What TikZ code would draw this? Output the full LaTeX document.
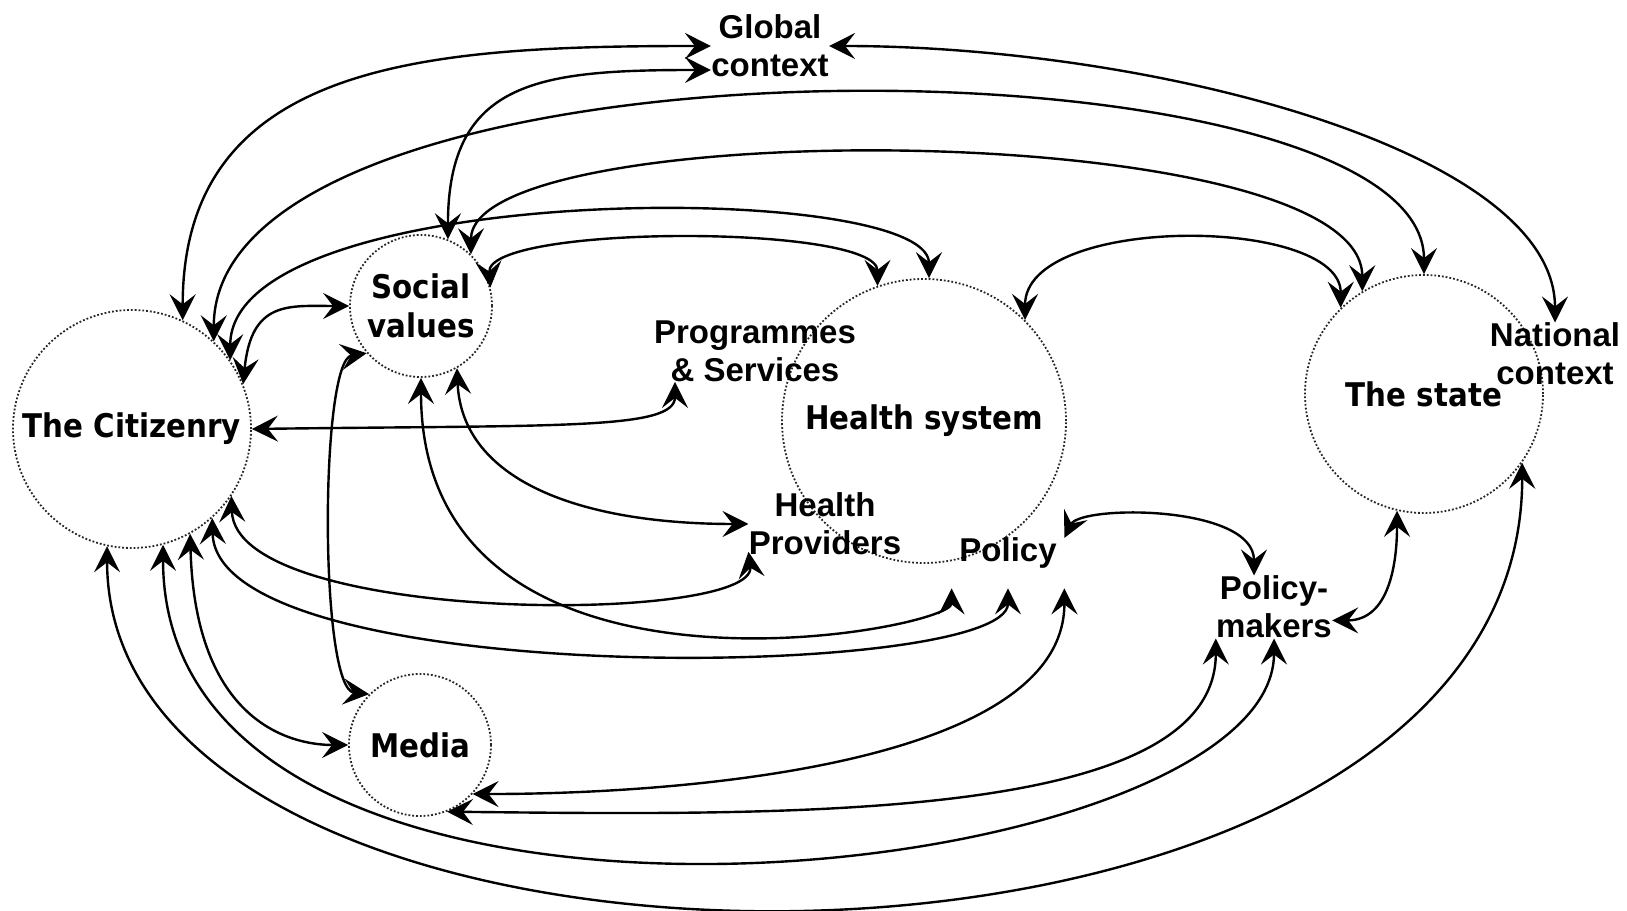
\documentclass[tikz,border=0pt]{standalone}
\usepackage{fontspec}
\setmainfont{Liberation Sans}
\newfontfamily\circfont{DejaVu Sans}[FakeStretch=0.9]
\usepackage{tikz}
\usetikzlibrary{arrows.meta}

\begin{document}
\begin{tikzpicture}
    [x=0.5pt, y=0.5pt,
     actor/.style={draw=black!85, circle, densely dotted, line width=0.9pt, inner sep=0pt,
       align=center, font=\circfont\bfseries\fontsize{16.3}{19.5}\selectfont},
     lbl/.style={inner sep=0pt, align=center, font=\bfseries\fontsize{16.5}{19}\selectfont},
     link/.style={<->, >={Stealth[length=13pt, width=13pt, inset=5pt]}, line width=1.2pt}]
    \useasboundingbox (0, 0) rectangle (1627, 910);

    \node (cit) [actor, minimum size=119pt] at (132, 481) {The Citizenry};
    \node (soc) [actor, minimum size=71pt] at (421, 604) {Social\\values};
    \node (hs) [actor, minimum size=142pt] at (924, 489) {Health system};
    \node (state) [actor, minimum size=119pt] at (1424, 516) {The state};
    \node (media) [actor, minimum size=71pt] at (420, 165) {Media};

    \node (glob) [lbl] at (770, 864) {Global\\context};
    \node (nat) [lbl] at (1555, 556) {National\\context};
    \node (prog) [lbl] at (755, 559) {Programmes\\\& Services};
    \node (prov) [lbl] at (825, 386) {Health\\Providers};
    \node (pol) [lbl, minimum width=56pt, minimum height=35pt] at (1008, 357) {Policy};
    \node (makers) [lbl] at (1274, 303) {Policy-\\makers};

    \draw [link] (cit.65) .. controls +(0,260) and +(-282,0) .. (glob.west);
    \draw [link] (soc.68) .. controls +(0,160) and +(-170,0) .. ([yshift=-12pt]glob.west);
    \draw [link] (glob.east) .. controls +(320,0) and +(0,173) .. (nat.north);
    \draw [link] (cit.47) .. controls +(0,322) and +(0,245) .. (state.90);
    \draw [link] (soc.46) .. controls +(0,140) and +(0,175) .. (state.121);
    \draw [link] (cit.35) .. controls +(0,181) and +(0,99) .. (hs.88);
    \draw [link] (soc.15) .. controls +(-5,63) and +(0,62) .. (hs.109);
    \draw [link] (hs.45) .. controls +(0,106) and +(0,92) .. (state.134);
    \draw [link] (cit.22) .. controls +(8,84) and +(-60,0) .. (soc.west);
    \draw [link] (cit.east) .. controls +(309,4) and +(0,-48) .. ([xshift=-40pt]prog.south);
    \draw [link] (soc.221) .. controls +(-47,-7) and +(-50,5) .. (media.135);
    \draw [link] (soc.south) .. controls +(0,-353) and +(0,-42) .. (pol.south west);
    \draw [link] (soc.300) .. controls +(5,-112) and +(-169,0) .. (prov.west);
    \draw [link] (cit.-34) .. controls +(4,-129) and +(9,-73) .. (prov.200);
    \draw [link] (cit.-48) .. controls +(4,-173) and +(0,-92) .. (pol.south);
    \draw [link] (cit.-61) .. controls +(5,-187) and +(-59,0) .. (media.west);
    \draw [link] (cit.-75) .. controls +(0,-466) and +(0,-250) .. (makers.south);
    \draw [link] (cit.-102) .. controls +(0,-495) and +(0,-578) .. (state.-35);
    \draw [link] (media.-43) .. controls +(228,0) and +(0,-172) .. (pol.south east);
    \draw [link] (media.-68) .. controls +(353,-4) and +(0,-182) .. (makers.south west);
    \draw [link] (pol.15) .. controls +(16,33) and +(0,71) .. ([xshift=-10pt]makers.north);
    \draw [link] (makers.-13) .. controls +(58,0) and +(0,-50) .. (state.-103);
\end{tikzpicture}
\end{document}
